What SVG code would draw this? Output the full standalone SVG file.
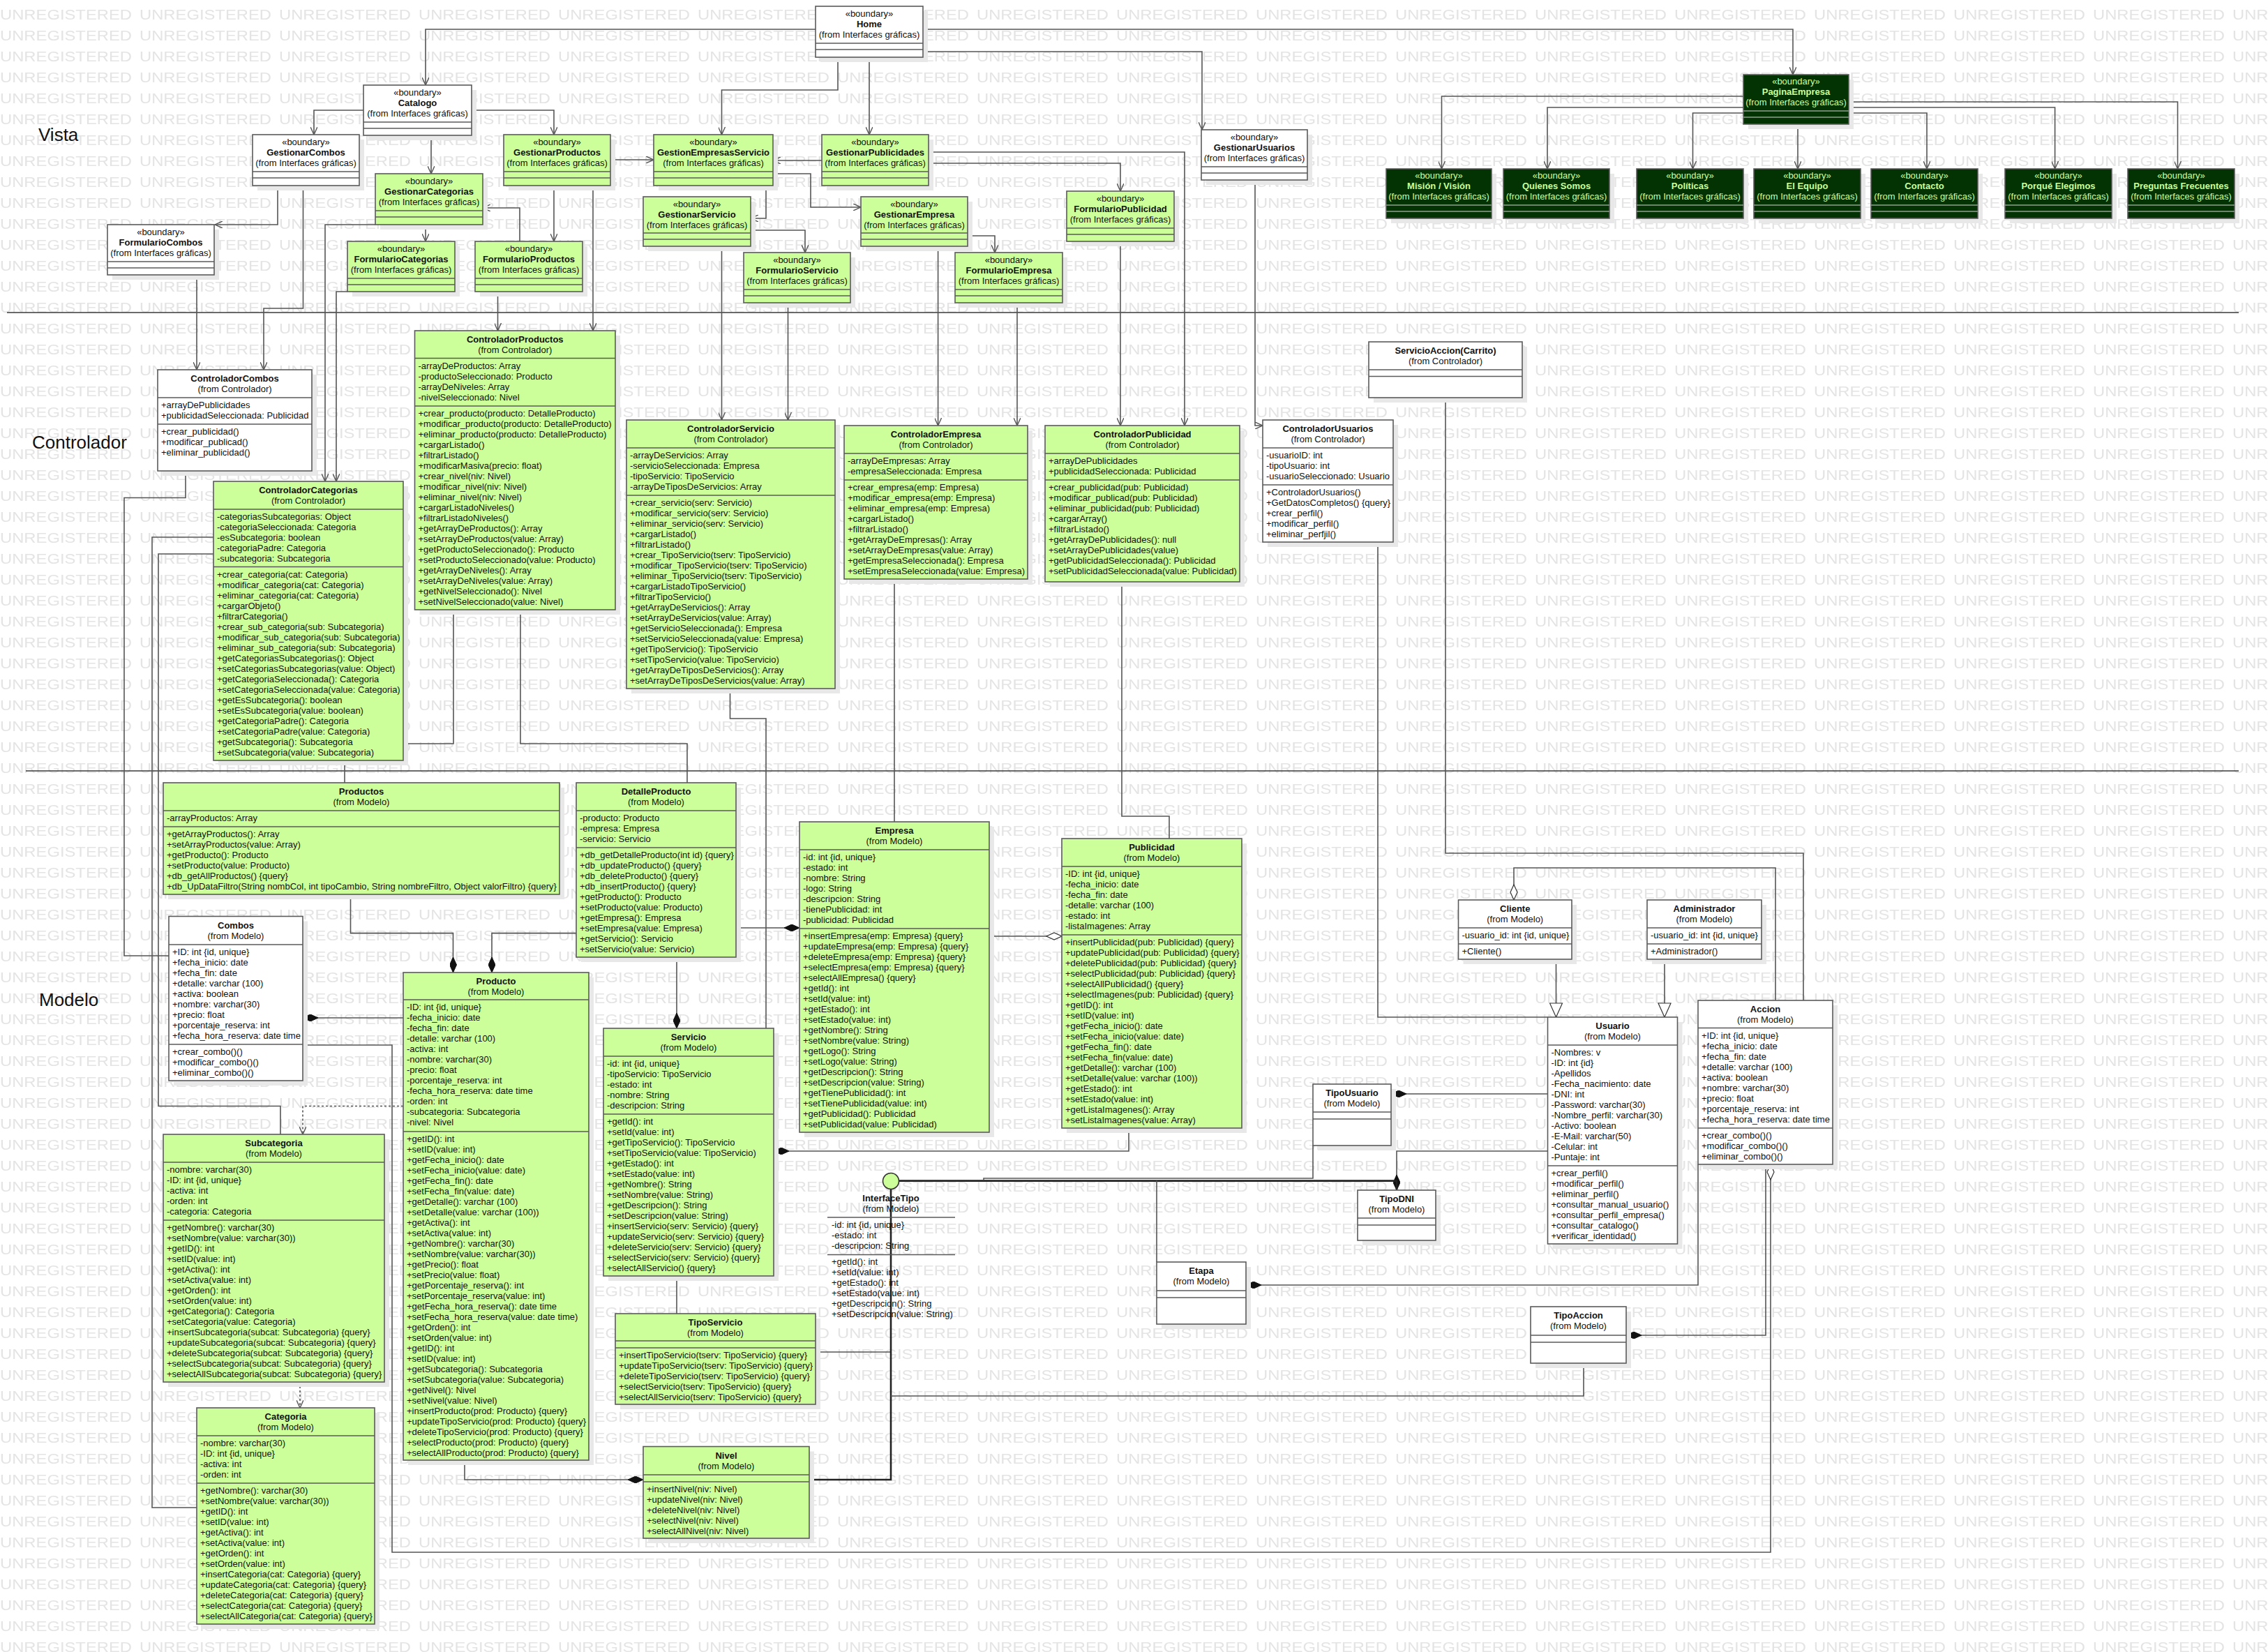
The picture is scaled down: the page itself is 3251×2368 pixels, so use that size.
<svg xmlns="http://www.w3.org/2000/svg" width="3251" height="2368" viewBox="0 0 3251 2368">
<defs>
<style>
.sh{fill:#e8e8e8}
.g{fill:#ccff99;stroke:#5a5a5a;stroke-width:1.6}
.w{fill:#ffffff;stroke:#5a5a5a;stroke-width:1.6}
.d{fill:#033303;stroke:#5a5a5a;stroke-width:1.6}
.ln{stroke:#5a5a5a;stroke-width:1.6}
.dln{stroke:#8fa08f;stroke-width:1.6}
text{font-family:"Liberation Sans",Arial,sans-serif;font-size:13px;fill:#111}
.t{font-weight:bold;text-anchor:middle}
.f{text-anchor:middle}
.dt{fill:#ccff99}
.lbl{font-size:26px}
.c{fill:none;stroke:#555;stroke-width:1.6}
.ck{fill:none;stroke:#222;stroke-width:2.6}
.dash{stroke-dasharray:3 3}
.sep{stroke:#3a3a3a;stroke-width:1.6}
</style>
<pattern id="wm" width="200" height="30" patternUnits="userSpaceOnUse">
<text x="0" y="28" style="font-size:21px;fill:#e4e4e4" textLength="189" lengthAdjust="spacingAndGlyphs">UNREGISTERED</text>
</pattern>
<marker id="arr" viewBox="0 0 12 10" refX="11" refY="5" markerWidth="12" markerHeight="10" markerUnits="userSpaceOnUse" orient="auto"><path d="M0,0 L11,5 L0,10" fill="none" stroke="#555" stroke-width="1.4"/></marker>
<marker id="dia" viewBox="0 0 22 10" refX="22" refY="5" markerWidth="22" markerHeight="10" markerUnits="userSpaceOnUse" orient="auto"><path d="M0,5 L11,0 L22,5 L11,10 Z" fill="#111" stroke="#111" stroke-width="1"/></marker>
<marker id="hdia" viewBox="0 0 24 12" refX="23" refY="6" markerWidth="24" markerHeight="12" markerUnits="userSpaceOnUse" orient="auto"><path d="M1,6 L12,1 L23,6 L12,11 Z" fill="#fff" stroke="#333" stroke-width="1.2"/></marker>
<marker id="tri" viewBox="0 0 22 20" refX="21" refY="10" markerWidth="22" markerHeight="20" markerUnits="userSpaceOnUse" orient="auto"><path d="M1,1 L21,10 L1,19 Z" fill="#fff" stroke="#333" stroke-width="1.2"/></marker>
</defs>

<!-- background -->
<rect width="3251" height="2368" fill="#ffffff"/>
<rect width="3251" height="2368" fill="url(#wm)"/>

<!-- layer separators and labels -->
<g id="layers">
<line class="sep" x1="10" y1="448" x2="3209" y2="448"/>
<line class="sep" x1="37" y1="1105" x2="3209" y2="1105"/>
<text class="lbl" x="55" y="202">Vista</text>
<text class="lbl" x="46" y="643">Controlador</text>
<text class="lbl" x="56" y="1442">Modelo</text>
</g>

<!-- connectors -->
<g id="connectors">
<!-- Vista navigation -->
<path class="c" marker-end="url(#arr)" d="M1169,42 H610 V122"/>
<path class="c" marker-end="url(#arr)" d="M1323,42 H2570 V107"/>
<path class="c" marker-end="url(#arr)" d="M1201,82 V129 H1034.5 V193"/>
<path class="c" marker-end="url(#arr)" d="M1246,82 V193"/>
<path class="c" marker-end="url(#arr)" d="M1323,74 H1723 V186"/>
<path class="c" marker-end="url(#arr)" d="M521,158 H450 V193"/>
<path class="c" marker-end="url(#arr)" d="M676,158 H794 V193"/>
<path class="c" marker-end="url(#arr)" d="M618,194 V249"/>
<path class="c" marker-end="url(#arr)" d="M398,266 V322 H308"/>
<path class="c" marker-end="url(#arr)" d="M434.5,266 V442 H378 V530"/>
<path class="c" marker-end="url(#arr)" d="M282,394 V530"/>
<path class="c" marker-end="url(#arr)" d="M610,322 V346"/>
<path class="c" marker-end="url(#arr)" d="M538,322 H466 V690"/>
<path class="c" marker-end="url(#arr)" d="M498,418 H482 V690"/>
<path class="c" marker-end="url(#arr)" d="M794,266 V346"/>
<path class="c" marker-end="url(#arr)" d="M850,266 V474"/>
<path class="c" marker-end="url(#arr)" d="M745,346 V298 H692"/>
<path class="c" marker-end="url(#arr)" d="M713.5,418 V474"/>
<path class="c" marker-end="url(#arr)" d="M875,229 H937"/>
<path class="c" marker-end="url(#arr)" d="M1178,230 H1108"/>
<path class="c" marker-end="url(#arr)" d="M1331,218 H1698 V610"/>
<path class="c" marker-end="url(#arr)" d="M1331,234 H1606 V274"/>
<path class="c" marker-end="url(#arr)" d="M1606,346 V610"/>
<path class="c" marker-end="url(#arr)" d="M1108,249 H1162 V297 H1234"/>
<path class="c" marker-end="url(#arr)" d="M1098,266 V313 H1076"/>
<path class="c" marker-end="url(#arr)" d="M1076,330 H1154 V362"/>
<path class="c" marker-end="url(#arr)" d="M1034.5,353 V602"/>
<path class="c" marker-end="url(#arr)" d="M1129.5,434 V602"/>
<path class="c" marker-end="url(#arr)" d="M1387,338 H1426 V362"/>
<path class="c" marker-end="url(#arr)" d="M1344.6,353 V610"/>
<path class="c" marker-end="url(#arr)" d="M1458,434 V610"/>
<path class="c" marker-end="url(#arr)" d="M1799,258 V610 H1810"/>
<path class="c" marker-end="url(#arr)" d="M2499,138 H2066.5 V242"/>
<path class="c" marker-end="url(#arr)" d="M2499,154 H2218 V242"/>
<path class="c" marker-end="url(#arr)" d="M2499,162 H2426.5 V242"/>
<path class="c" marker-end="url(#arr)" d="M2577,178 V242"/>
<path class="c" marker-end="url(#arr)" d="M2650,162 H2762 V242"/>
<path class="c" marker-end="url(#arr)" d="M2650,154 H2945.6 V242"/>
<path class="c" marker-end="url(#arr)" d="M2650,146 H3121.5 V242"/>
<!-- Controlador to Modelo -->
<path class="c" d="M266,675 V713.5 H178 V1370 H242"/>
<path class="c" d="M306,770 H218 V2161 H282"/>
<path class="c" d="M306,794 H227 V1585.5 H402 V1626"/>
<path class="c" d="M494,1090 V1122"/>
<path class="c" d="M577.5,1066 H650 V874"/>
<path class="c" d="M746,874 V1066 H985 V1122"/>
<path class="c" d="M1046.5,987 V1030 H1098 V1474"/>
<path class="c" d="M1282,830 V1178"/>
<path class="c" d="M1608,834 V1170 H1676 V1202"/>
<path class="c" d="M1975,777 V1458 H2218.5"/>
<path class="c" d="M2072,570 V1223 H2585 V1434"/>
<!-- Modelo relations -->
<path class="c" marker-end="url(#dia)" d="M502.5,1281.5 V1337.6 H649.5 V1394"/>
<path class="c" marker-end="url(#dia)" d="M826,1337.6 H705 V1394"/>
<path class="c" marker-end="url(#dia)" d="M1055,1330 H1146"/>
<path class="c" marker-end="url(#dia)" d="M970,1371 V1474"/>
<path class="c" marker-end="url(#dia)" d="M578,1459 H434"/>
<path class="c dash" marker-end="url(#arr)" d="M578,1585.5 H434 V1626"/>
<path class="c dash" marker-end="url(#arr)" d="M430,1981 V2018"/>
<path class="c" marker-end="url(#dia)" d="M666,2093 V2121 H922"/>
<path class="c" marker-end="url(#hdia)" d="M434,1498 H562 V2225 H2538 V1669"/>
<path class="c" d="M970,1829 V1883"/>
<path class="c" marker-end="url(#dia)" d="M1618,1617 V1650 H1109"/>
<path class="c" marker-end="url(#hdia)" d="M1418,1342 H1522"/>
<path class="c" marker-end="url(#tri)" d="M2230.5,1375 V1458"/>
<path class="c" marker-end="url(#tri)" d="M2386,1375 V1458"/>
<path class="c" marker-end="url(#hdia)" d="M2545,1434 V1244 H2170 V1290"/>
<path class="c" marker-end="url(#dia)" d="M2218.5,1568 H1994"/>
<path class="c" marker-end="url(#dia)" d="M2218.5,1650 H2002 V1706"/>
<path class="c" marker-end="url(#dia)" d="M2434,1669 V1842 H1786"/>
<path class="c" marker-end="url(#dia)" d="M2531,1669 V1914 H2331"/>
<!-- InterfaceTipo realizations -->
<path class="ck" d="M2002,1706 V1692.6 H1288.5"/>
<path class="c" d="M1882,1642 V1689 H1410 V1692"/>
<path class="c" d="M1658,1809 V1692.6"/>
<path class="c" d="M1169,1938 H1277"/>
<path class="ck" d="M1160,2121 H1277 V1704.5"/>
<path class="c" d="M2270,1954 V2001 H1277"/>
</g>

<!-- ===== Vista ===== -->
<g id="Home"><rect class="sh" x="1176" y="16" width="154" height="73"/><rect class="w" x="1169" y="9" width="154" height="73"/><line class="ln" x1="1169" y1="62" x2="1323" y2="62"/><line class="ln" x1="1169" y1="71" x2="1323" y2="71"/><text class="f" x="1246" y="24">«boundary»</text><text class="t" x="1246" y="39">Home</text><text class="f" x="1246" y="54">(from Interfaces gráficas)</text></g>
<g id="Catalogo"><rect class="sh" x="528" y="129" width="155" height="72"/><rect class="w" x="521" y="122" width="155" height="72"/><line class="ln" x1="521" y1="175" x2="676" y2="175"/><line class="ln" x1="521" y1="184" x2="676" y2="184"/><text class="f" x="598.5" y="137">«boundary»</text><text class="t" x="598.5" y="152">Catalogo</text><text class="f" x="598.5" y="167">(from Interfaces gráficas)</text></g>
<g id="GestionarCombos"><rect class="sh" x="369" y="200" width="153" height="73"/><rect class="w" x="362" y="193" width="153" height="73"/><line class="ln" x1="362" y1="246" x2="515" y2="246"/><line class="ln" x1="362" y1="255" x2="515" y2="255"/><text class="f" x="438.5" y="208">«boundary»</text><text class="t" x="438.5" y="223">GestionarCombos</text><text class="f" x="438.5" y="238">(from Interfaces gráficas)</text></g>
<g id="GestionarCategorias"><rect class="sh" x="545" y="256" width="154" height="73"/><rect class="g" x="538" y="249" width="154" height="73"/><line class="ln" x1="538" y1="302" x2="692" y2="302"/><line class="ln" x1="538" y1="311" x2="692" y2="311"/><text class="f" x="615" y="264">«boundary»</text><text class="t" x="615" y="279">GestionarCategorias</text><text class="f" x="615" y="294">(from Interfaces gráficas)</text></g>
<g id="GestionarProductos"><rect class="sh" x="729" y="200" width="153" height="73"/><rect class="g" x="722" y="193" width="153" height="73"/><line class="ln" x1="722" y1="246" x2="875" y2="246"/><line class="ln" x1="722" y1="255" x2="875" y2="255"/><text class="f" x="798.5" y="208">«boundary»</text><text class="t" x="798.5" y="223">GestionarProductos</text><text class="f" x="798.5" y="238">(from Interfaces gráficas)</text></g>
<g id="FormularioCombos"><rect class="sh" x="161" y="329" width="153" height="72"/><rect class="w" x="154" y="322" width="153" height="72"/><line class="ln" x1="154" y1="375" x2="307" y2="375"/><line class="ln" x1="154" y1="384" x2="307" y2="384"/><text class="f" x="230.5" y="337">«boundary»</text><text class="t" x="230.5" y="352">FormularioCombos</text><text class="f" x="230.5" y="367">(from Interfaces gráficas)</text></g>
<g id="FormularioCategorias"><rect class="sh" x="505" y="353" width="154" height="72"/><rect class="g" x="498" y="346" width="154" height="72"/><line class="ln" x1="498" y1="399" x2="652" y2="399"/><line class="ln" x1="498" y1="408" x2="652" y2="408"/><text class="f" x="575" y="361">«boundary»</text><text class="t" x="575" y="376">FormularioCategorias</text><text class="f" x="575" y="391">(from Interfaces gráficas)</text></g>
<g id="FormularioProductos"><rect class="sh" x="688" y="353" width="154" height="72"/><rect class="g" x="681" y="346" width="154" height="72"/><line class="ln" x1="681" y1="399" x2="835" y2="399"/><line class="ln" x1="681" y1="408" x2="835" y2="408"/><text class="f" x="758" y="361">«boundary»</text><text class="t" x="758" y="376">FormularioProductos</text><text class="f" x="758" y="391">(from Interfaces gráficas)</text></g>
<g id="GestionEmpresasServicio"><rect class="sh" x="944" y="200" width="171" height="73"/><rect class="g" x="937" y="193" width="171" height="73"/><line class="ln" x1="937" y1="246" x2="1108" y2="246"/><line class="ln" x1="937" y1="255" x2="1108" y2="255"/><text class="f" x="1022.5" y="208">«boundary»</text><text class="t" x="1022.5" y="223">GestionEmpresasServicio</text><text class="f" x="1022.5" y="238">(from Interfaces gráficas)</text></g>
<g id="GestionarPublicidades"><rect class="sh" x="1185" y="200" width="153" height="73"/><rect class="g" x="1178" y="193" width="153" height="73"/><line class="ln" x1="1178" y1="246" x2="1331" y2="246"/><line class="ln" x1="1178" y1="255" x2="1331" y2="255"/><text class="f" x="1254.5" y="208">«boundary»</text><text class="t" x="1254.5" y="223">GestionarPublicidades</text><text class="f" x="1254.5" y="238">(from Interfaces gráficas)</text></g>
<g id="GestionarUsuarios"><rect class="sh" x="1729" y="193" width="152" height="72"/><rect class="w" x="1722" y="186" width="152" height="72"/><line class="ln" x1="1722" y1="239" x2="1874" y2="239"/><line class="ln" x1="1722" y1="248" x2="1874" y2="248"/><text class="f" x="1798" y="201">«boundary»</text><text class="t" x="1798" y="216">GestionarUsuarios</text><text class="f" x="1798" y="231">(from Interfaces gráficas)</text></g>
<g id="GestionarServicio"><rect class="sh" x="929" y="289" width="154" height="71"/><rect class="g" x="922" y="282" width="154" height="71"/><line class="ln" x1="922" y1="334" x2="1076" y2="334"/><line class="ln" x1="922" y1="343" x2="1076" y2="343"/><text class="f" x="999" y="297">«boundary»</text><text class="t" x="999" y="312">GestionarServicio</text><text class="f" x="999" y="327">(from Interfaces gráficas)</text></g>
<g id="GestionarEmpresa"><rect class="sh" x="1241" y="289" width="153" height="71"/><rect class="g" x="1234" y="282" width="153" height="71"/><line class="ln" x1="1234" y1="334" x2="1387" y2="334"/><line class="ln" x1="1234" y1="343" x2="1387" y2="343"/><text class="f" x="1310.5" y="297">«boundary»</text><text class="t" x="1310.5" y="312">GestionarEmpresa</text><text class="f" x="1310.5" y="327">(from Interfaces gráficas)</text></g>
<g id="FormularioPublicidad"><rect class="sh" x="1536" y="281" width="154" height="72"/><rect class="g" x="1529" y="274" width="154" height="72"/><line class="ln" x1="1529" y1="327" x2="1683" y2="327"/><line class="ln" x1="1529" y1="336" x2="1683" y2="336"/><text class="f" x="1606" y="289">«boundary»</text><text class="t" x="1606" y="304">FormularioPublicidad</text><text class="f" x="1606" y="319">(from Interfaces gráficas)</text></g>
<g id="FormularioServicio"><rect class="sh" x="1073" y="369" width="153" height="72"/><rect class="g" x="1066" y="362" width="153" height="72"/><line class="ln" x1="1066" y1="415" x2="1219" y2="415"/><line class="ln" x1="1066" y1="424" x2="1219" y2="424"/><text class="f" x="1142.5" y="377">«boundary»</text><text class="t" x="1142.5" y="392">FormularioServicio</text><text class="f" x="1142.5" y="407">(from Interfaces gráficas)</text></g>
<g id="FormularioEmpresa"><rect class="sh" x="1376" y="369" width="154" height="72"/><rect class="g" x="1369" y="362" width="154" height="72"/><line class="ln" x1="1369" y1="415" x2="1523" y2="415"/><line class="ln" x1="1369" y1="424" x2="1523" y2="424"/><text class="f" x="1446" y="377">«boundary»</text><text class="t" x="1446" y="392">FormularioEmpresa</text><text class="f" x="1446" y="407">(from Interfaces gráficas)</text></g>

<!-- company pages -->
<g id="PaginaEmpresa"><rect class="sh" x="2506" y="114" width="151" height="71"/><rect class="d" x="2499" y="107" width="151" height="71"/><line class="dln" x1="2499" y1="159" x2="2650" y2="159"/><line class="dln" x1="2499" y1="168" x2="2650" y2="168"/><text class="f dt" x="2574.5" y="121">«boundary»</text><text class="t dt" x="2574.5" y="136">PaginaEmpresa</text><text class="f dt" x="2574.5" y="151">(from Interfaces gráficas)</text></g>
<g id="MisionVision"><rect class="sh" x="1994" y="249" width="151" height="71"/><rect class="d" x="1987" y="242" width="151" height="71"/><line class="dln" x1="1987" y1="294" x2="2138" y2="294"/><line class="dln" x1="1987" y1="303" x2="2138" y2="303"/><text class="f dt" x="2062.5" y="256">«boundary»</text><text class="t dt" x="2062.5" y="271">Misión / Visión</text><text class="f dt" x="2062.5" y="286">(from Interfaces gráficas)</text></g>
<g id="QuienesSomos"><rect class="sh" x="2162" y="249" width="152" height="71"/><rect class="d" x="2155" y="242" width="152" height="71"/><line class="dln" x1="2155" y1="294" x2="2307" y2="294"/><line class="dln" x1="2155" y1="303" x2="2307" y2="303"/><text class="f dt" x="2231" y="256">«boundary»</text><text class="t dt" x="2231" y="271">Quienes Somos</text><text class="f dt" x="2231" y="286">(from Interfaces gráficas)</text></g>
<g id="Politicas"><rect class="sh" x="2353" y="249" width="153" height="71"/><rect class="d" x="2346" y="242" width="153" height="71"/><line class="dln" x1="2346" y1="294" x2="2499" y2="294"/><line class="dln" x1="2346" y1="303" x2="2499" y2="303"/><text class="f dt" x="2422.5" y="256">«boundary»</text><text class="t dt" x="2422.5" y="271">Políticas</text><text class="f dt" x="2422.5" y="286">(from Interfaces gráficas)</text></g>
<g id="ElEquipo"><rect class="sh" x="2521" y="249" width="153" height="71"/><rect class="d" x="2514" y="242" width="153" height="71"/><line class="dln" x1="2514" y1="294" x2="2667" y2="294"/><line class="dln" x1="2514" y1="303" x2="2667" y2="303"/><text class="f dt" x="2590.5" y="256">«boundary»</text><text class="t dt" x="2590.5" y="271">El Equipo</text><text class="f dt" x="2590.5" y="286">(from Interfaces gráficas)</text></g>
<g id="Contacto"><rect class="sh" x="2689" y="249" width="153" height="71"/><rect class="d" x="2682" y="242" width="153" height="71"/><line class="dln" x1="2682" y1="294" x2="2835" y2="294"/><line class="dln" x1="2682" y1="303" x2="2835" y2="303"/><text class="f dt" x="2758.5" y="256">«boundary»</text><text class="t dt" x="2758.5" y="271">Contacto</text><text class="f dt" x="2758.5" y="286">(from Interfaces gráficas)</text></g>
<g id="PorqueElegimos"><rect class="sh" x="2881" y="249" width="153" height="71"/><rect class="d" x="2874" y="242" width="153" height="71"/><line class="dln" x1="2874" y1="294" x2="3027" y2="294"/><line class="dln" x1="2874" y1="303" x2="3027" y2="303"/><text class="f dt" x="2950.5" y="256">«boundary»</text><text class="t dt" x="2950.5" y="271">Porqué Elegimos</text><text class="f dt" x="2950.5" y="286">(from Interfaces gráficas)</text></g>
<g id="PreguntasFrecuentes"><rect class="sh" x="3057" y="249" width="153" height="71"/><rect class="d" x="3050" y="242" width="153" height="71"/><line class="dln" x1="3050" y1="294" x2="3203" y2="294"/><line class="dln" x1="3050" y1="303" x2="3203" y2="303"/><text class="f dt" x="3126.5" y="256">«boundary»</text><text class="t dt" x="3126.5" y="271">Preguntas Frecuentes</text><text class="f dt" x="3126.5" y="286">(from Interfaces gráficas)</text></g>

<!-- ===== Controlador ===== -->
<g id="ControladorCombos"><rect class="sh" x="233" y="537" width="221" height="145"/><rect class="w" x="226" y="530" width="221" height="145"/><line class="ln" x1="226" y1="570" x2="447" y2="570"/><line class="ln" x1="226" y1="608" x2="447" y2="608"/>
<text class="t" x="336.5" y="547">ControladorCombos</text><text class="f" x="336.5" y="562">(from Controlador)</text>
<text x="231" y="585"><tspan x="231">+arrayDePublicidades</tspan><tspan x="231" dy="15">+publicidadSeleccionada: Publicidad</tspan></text>
<text x="231" y="623"><tspan x="231">+crear_publicidad()</tspan><tspan x="231" dy="15">+modificar_publicad()</tspan><tspan x="231" dy="15">+eliminar_publicidad()</tspan></text></g>

<g id="ControladorCategorias"><rect class="sh" x="313" y="697" width="272" height="400"/><rect class="g" x="306" y="690" width="272" height="400"/><line class="ln" x1="306" y1="730" x2="578" y2="730"/><line class="ln" x1="306" y1="812.5" x2="578" y2="812.5"/>
<text class="t" x="442" y="707">ControladorCategorias</text><text class="f" x="442" y="722">(from Controlador)</text>
<text x="311" y="745"><tspan x="311">-categoriasSubcategorias: Object</tspan><tspan x="311" dy="15">-categoriaSeleccionada: Categoria</tspan><tspan x="311" dy="15">-esSubcategoria: boolean</tspan><tspan x="311" dy="15">-categoriaPadre: Categoria</tspan><tspan x="311" dy="15">-subcategoria: Subcategoria</tspan></text>
<text x="311" y="827.5"><tspan x="311">+crear_categoria(cat: Categoria)</tspan><tspan x="311" dy="15">+modificar_categoria(cat: Categoria)</tspan><tspan x="311" dy="15">+eliminar_categoria(cat: Categoria)</tspan><tspan x="311" dy="15">+cargarObjeto()</tspan><tspan x="311" dy="15">+filtrarCategoria()</tspan><tspan x="311" dy="15">+crear_sub_categoria(sub: Subcategoria)</tspan><tspan x="311" dy="15">+modificar_sub_categoria(sub: Subcategoria)</tspan><tspan x="311" dy="15">+eliminar_sub_categoria(sub: Subcategoria)</tspan><tspan x="311" dy="15">+getCategoriasSubcategorias(): Object</tspan><tspan x="311" dy="15">+setCategoriasSubcategorias(value: Object)</tspan><tspan x="311" dy="15">+getCategoriaSeleccionada(): Categoria</tspan><tspan x="311" dy="15">+setCategoriaSeleccionada(value: Categoria)</tspan><tspan x="311" dy="15">+getEsSubcategoria(): boolean</tspan><tspan x="311" dy="15">+setEsSubcategoria(value: boolean)</tspan><tspan x="311" dy="15">+getCategoriaPadre(): Categoria</tspan><tspan x="311" dy="15">+setCategoriaPadre(value: Categoria)</tspan><tspan x="311" dy="15">+getSubcategoria(): Subcategoria</tspan><tspan x="311" dy="15">+setSubcategoria(value: Subcategoria)</tspan></text></g>

<g id="ControladorProductos"><rect class="sh" x="601.5" y="481" width="287.5" height="400"/><rect class="g" x="594.5" y="474" width="287.5" height="400"/><line class="ln" x1="594.5" y1="513.5" x2="882" y2="513.5"/><line class="ln" x1="594.5" y1="582" x2="882" y2="582"/>
<text class="t" x="738.25" y="491">ControladorProductos</text><text class="f" x="738.25" y="506">(from Controlador)</text>
<text x="599.5" y="528.5"><tspan x="599.5">-arrayDeProductos: Array</tspan><tspan x="599.5" dy="15">-productoSeleccionado: Producto</tspan><tspan x="599.5" dy="15">-arrayDeNiveles: Array</tspan><tspan x="599.5" dy="15">-nivelSeleccionado: Nivel</tspan></text>
<text x="599.5" y="597"><tspan x="599.5">+crear_producto(producto: DetalleProducto)</tspan><tspan x="599.5" dy="15">+modificar_producto(producto: DetalleProducto)</tspan><tspan x="599.5" dy="15">+eliminar_producto(producto: DetalleProducto)</tspan><tspan x="599.5" dy="15">+cargarListado()</tspan><tspan x="599.5" dy="15">+filtrarListado()</tspan><tspan x="599.5" dy="15">+modificarMasiva(precio: float)</tspan><tspan x="599.5" dy="15">+crear_nivel(niv: Nivel)</tspan><tspan x="599.5" dy="15">+modificar_nivel(niv: Nivel)</tspan><tspan x="599.5" dy="15">+eliminar_nivel(niv: Nivel)</tspan><tspan x="599.5" dy="15">+cargarListadoNiveles()</tspan><tspan x="599.5" dy="15">+filtrarListadoNiveles()</tspan><tspan x="599.5" dy="15">+getArrayDeProductos(): Array</tspan><tspan x="599.5" dy="15">+setArrayDeProductos(value: Array)</tspan><tspan x="599.5" dy="15">+getProductoSeleccionado(): Producto</tspan><tspan x="599.5" dy="15">+setProductoSeleccionado(value: Producto)</tspan><tspan x="599.5" dy="15">+getArrayDeNiveles(): Array</tspan><tspan x="599.5" dy="15">+setArrayDeNiveles(value: Array)</tspan><tspan x="599.5" dy="15">+getNivelSeleccionado(): Nivel</tspan><tspan x="599.5" dy="15">+setNivelSeleccionado(value: Nivel)</tspan></text></g>

<g id="ControladorServicio"><rect class="sh" x="905" y="609" width="299" height="385"/><rect class="g" x="898" y="602" width="299" height="385"/><line class="ln" x1="898" y1="642" x2="1197" y2="642"/><line class="ln" x1="898" y1="710" x2="1197" y2="710"/>
<text class="t" x="1047.5" y="619">ControladorServicio</text><text class="f" x="1047.5" y="634">(from Controlador)</text>
<text x="903" y="657"><tspan x="903">-arrayDeServicios: Array</tspan><tspan x="903" dy="15">-servicioSeleccionada: Empresa</tspan><tspan x="903" dy="15">-tipoServicio: TipoServicio</tspan><tspan x="903" dy="15">-arrayDeTiposDeServicios: Array</tspan></text>
<text x="903" y="725"><tspan x="903">+crear_servicio(serv: Servicio)</tspan><tspan x="903" dy="15">+modificar_servicio(serv: Servicio)</tspan><tspan x="903" dy="15">+eliminar_servicio(serv: Servicio)</tspan><tspan x="903" dy="15">+cargarListado()</tspan><tspan x="903" dy="15">+filtrarListado()</tspan><tspan x="903" dy="15">+crear_TipoServicio(tserv: TipoServicio)</tspan><tspan x="903" dy="15">+modificar_TipoServicio(tserv: TipoServicio)</tspan><tspan x="903" dy="15">+eliminar_TipoServicio(tserv: TipoServicio)</tspan><tspan x="903" dy="15">+cargarListadoTipoServicio()</tspan><tspan x="903" dy="15">+filtrarTipoServicio()</tspan><tspan x="903" dy="15">+getArrayDeServicios(): Array</tspan><tspan x="903" dy="15">+setArrayDeServicios(value: Array)</tspan><tspan x="903" dy="15">+getServicioSeleccionada(): Empresa</tspan><tspan x="903" dy="15">+setServicioSeleccionada(value: Empresa)</tspan><tspan x="903" dy="15">+getTipoServicio(): TipoServicio</tspan><tspan x="903" dy="15">+setTipoServicio(value: TipoServicio)</tspan><tspan x="903" dy="15">+getArrayDeTiposDeServicios(): Array</tspan><tspan x="903" dy="15">+setArrayDeTiposDeServicios(value: Array)</tspan></text></g>

<g id="ControladorEmpresa"><rect class="sh" x="1217" y="617" width="263" height="220"/><rect class="g" x="1210" y="610" width="263" height="220"/><line class="ln" x1="1210" y1="650" x2="1473" y2="650"/><line class="ln" x1="1210" y1="688" x2="1473" y2="688"/>
<text class="t" x="1341.5" y="627">ControladorEmpresa</text><text class="f" x="1341.5" y="642">(from Controlador)</text>
<text x="1215" y="665"><tspan x="1215">-arrayDeEmpresas: Array</tspan><tspan x="1215" dy="15">-empresaSeleccionada: Empresa</tspan></text>
<text x="1215" y="703"><tspan x="1215">+crear_empresa(emp: Empresa)</tspan><tspan x="1215" dy="15">+modificar_empresa(emp: Empresa)</tspan><tspan x="1215" dy="15">+eliminar_empresa(emp: Empresa)</tspan><tspan x="1215" dy="15">+cargarListado()</tspan><tspan x="1215" dy="15">+filtrarListado()</tspan><tspan x="1215" dy="15">+getArrayDeEmpresas(): Array</tspan><tspan x="1215" dy="15">+setArrayDeEmpresas(value: Array)</tspan><tspan x="1215" dy="15">+getEmpresaSeleccionada(): Empresa</tspan><tspan x="1215" dy="15">+setEmpresaSeleccionada(value: Empresa)</tspan></text></g>

<g id="ControladorPublicidad"><rect class="sh" x="1505" y="617" width="279" height="224"/><rect class="g" x="1498" y="610" width="279" height="224"/><line class="ln" x1="1498" y1="650" x2="1777" y2="650"/><line class="ln" x1="1498" y1="688" x2="1777" y2="688"/>
<text class="t" x="1637.5" y="627">ControladorPublicidad</text><text class="f" x="1637.5" y="642">(from Controlador)</text>
<text x="1503" y="665"><tspan x="1503">+arrayDePublicidades</tspan><tspan x="1503" dy="15">+publicidadSeleccionada: Publicidad</tspan></text>
<text x="1503" y="703"><tspan x="1503">+crear_publicidad(pub: Publicidad)</tspan><tspan x="1503" dy="15">+modificar_publicad(pub: Publicidad)</tspan><tspan x="1503" dy="15">+eliminar_publicidad(pub: Publicidad)</tspan><tspan x="1503" dy="15">+cargarArray()</tspan><tspan x="1503" dy="15">+filtrarListado()</tspan><tspan x="1503" dy="15">+getArrayDePublicidades(): null</tspan><tspan x="1503" dy="15">+setArrayDePublicidades(value)</tspan><tspan x="1503" dy="15">+getPublicidadSeleccionada(): Publicidad</tspan><tspan x="1503" dy="15">+setPublicidadSeleccionada(value: Publicidad)</tspan></text></g>

<g id="ServicioAccionCarrito"><rect class="sh" x="1969" y="497" width="220" height="80"/><rect class="w" x="1962" y="490" width="220" height="80"/><line class="ln" x1="1962" y1="530" x2="2182" y2="530"/><line class="ln" x1="1962" y1="539.5" x2="2182" y2="539.5"/>
<text class="t" x="2072" y="507">ServicioAccion(Carrito)</text><text class="f" x="2072" y="522">(from Controlador)</text></g>

<g id="ControladorUsuarios"><rect class="sh" x="1817" y="609" width="187" height="175"/><rect class="w" x="1810" y="602" width="187" height="175"/><line class="ln" x1="1810" y1="642" x2="1997" y2="642"/><line class="ln" x1="1810" y1="695" x2="1997" y2="695"/>
<text class="t" x="1903.5" y="619">ControladorUsuarios</text><text class="f" x="1903.5" y="634">(from Controlador)</text>
<text x="1815" y="657"><tspan x="1815">-usuarioID: int</tspan><tspan x="1815" dy="15">-tipoUsuario: int</tspan><tspan x="1815" dy="15">-usuarioSeleccionado: Usuario</tspan></text>
<text x="1815" y="710"><tspan x="1815">+ControladorUsuarios()</tspan><tspan x="1815" dy="15">+GetDatosCompletos() {query}</tspan><tspan x="1815" dy="15">+crear_perfil()</tspan><tspan x="1815" dy="15">+modificar_perfil()</tspan><tspan x="1815" dy="15">+eliminar_perfjil()</tspan></text></g>

<!-- ===== Modelo ===== -->
<g id="Productos"><rect class="sh" x="241" y="1129" width="568" height="160"/><rect class="g" x="234" y="1122" width="568" height="160"/><line class="ln" x1="234" y1="1162" x2="802" y2="1162"/><line class="ln" x1="234" y1="1185" x2="802" y2="1185"/>
<text class="t" x="518" y="1139">Productos</text><text class="f" x="518" y="1154">(from Modelo)</text>
<text x="239" y="1177">-arrayProductos: Array</text>
<text x="239" y="1200"><tspan x="239">+getArrayProductos(): Array</tspan><tspan x="239" dy="15">+setArrayProductos(value: Array)</tspan><tspan x="239" dy="15">+getProducto(): Producto</tspan><tspan x="239" dy="15">+setProducto(value: Producto)</tspan><tspan x="239" dy="15">+db_getAllProductos() {query}</tspan><tspan x="239" dy="15">+db_UpDataFiltro(String nombCol, int tipoCambio, String nombreFiltro, Object valorFiltro) {query}</tspan></text></g>

<g id="DetalleProducto"><rect class="sh" x="833" y="1129" width="229" height="250"/><rect class="g" x="826" y="1122" width="229" height="250"/><line class="ln" x1="826" y1="1162" x2="1055" y2="1162"/><line class="ln" x1="826" y1="1215" x2="1055" y2="1215"/>
<text class="t" x="940.5" y="1139">DetalleProducto</text><text class="f" x="940.5" y="1154">(from Modelo)</text>
<text x="831" y="1177"><tspan x="831">-producto: Producto</tspan><tspan x="831" dy="15">-empresa: Empresa</tspan><tspan x="831" dy="15">-servicio: Servicio</tspan></text>
<text x="831" y="1230"><tspan x="831">+db_getDetalleProducto(int id) {query}</tspan><tspan x="831" dy="15">+db_updateProducto() {query}</tspan><tspan x="831" dy="15">+db_deleteProducto() {query}</tspan><tspan x="831" dy="15">+db_insertProducto() {query}</tspan><tspan x="831" dy="15">+getProducto(): Producto</tspan><tspan x="831" dy="15">+setProducto(value: Producto)</tspan><tspan x="831" dy="15">+getEmpresa(): Empresa</tspan><tspan x="831" dy="15">+setEmpresa(value: Empresa)</tspan><tspan x="831" dy="15">+getServicio(): Servicio</tspan><tspan x="831" dy="15">+setServicio(value: Servicio)</tspan></text></g>

<g id="Combos"><rect class="sh" x="249" y="1320.5" width="192" height="235.5"/><rect class="w" x="242" y="1313.5" width="192" height="235.5"/><line class="ln" x1="242" y1="1354" x2="434" y2="1354"/><line class="ln" x1="242" y1="1497" x2="434" y2="1497"/>
<text class="t" x="338" y="1330.5">Combos</text><text class="f" x="338" y="1345.5">(from Modelo)</text>
<text x="247" y="1369"><tspan x="247">+ID: int {id, unique}</tspan><tspan x="247" dy="15">+fecha_inicio: date</tspan><tspan x="247" dy="15">+fecha_fin: date</tspan><tspan x="247" dy="15">+detalle: varchar (100)</tspan><tspan x="247" dy="15">+activa: boolean</tspan><tspan x="247" dy="15">+nombre: varchar(30)</tspan><tspan x="247" dy="15">+precio: float</tspan><tspan x="247" dy="15">+porcentaje_reserva: int</tspan><tspan x="247" dy="15">+fecha_hora_reserva: date time</tspan></text>
<text x="247" y="1512"><tspan x="247">+crear_combo()()</tspan><tspan x="247" dy="15">+modificar_combo()()</tspan><tspan x="247" dy="15">+eliminar_combo()()</tspan></text></g>

<g id="Producto"><rect class="sh" x="585" y="1401" width="266" height="699"/><rect class="g" x="578" y="1394" width="266" height="699"/><line class="ln" x1="578" y1="1433" x2="844" y2="1433"/><line class="ln" x1="578" y1="1622" x2="844" y2="1622"/>
<text class="t" x="711" y="1411">Producto</text><text class="f" x="711" y="1426">(from Modelo)</text>
<text x="583" y="1448"><tspan x="583">-ID: int {id, unique}</tspan><tspan x="583" dy="15">-fecha_inicio: date</tspan><tspan x="583" dy="15">-fecha_fin: date</tspan><tspan x="583" dy="15">-detalle: varchar (100)</tspan><tspan x="583" dy="15">-activa: int</tspan><tspan x="583" dy="15">-nombre: varchar(30)</tspan><tspan x="583" dy="15">-precio: float</tspan><tspan x="583" dy="15">-porcentaje_reserva: int</tspan><tspan x="583" dy="15">-fecha_hora_reserva: date time</tspan><tspan x="583" dy="15">-orden: int</tspan><tspan x="583" dy="15">-subcategoria: Subcategoria</tspan><tspan x="583" dy="15">-nivel: Nivel</tspan></text>
<text x="583" y="1637"><tspan x="583">+getID(): int</tspan><tspan x="583" dy="15">+setID(value: int)</tspan><tspan x="583" dy="15">+getFecha_inicio(): date</tspan><tspan x="583" dy="15">+setFecha_inicio(value: date)</tspan><tspan x="583" dy="15">+getFecha_fin(): date</tspan><tspan x="583" dy="15">+setFecha_fin(value: date)</tspan><tspan x="583" dy="15">+getDetalle(): varchar (100)</tspan><tspan x="583" dy="15">+setDetalle(value: varchar (100))</tspan><tspan x="583" dy="15">+getActiva(): int</tspan><tspan x="583" dy="15">+setActiva(value: int)</tspan><tspan x="583" dy="15">+getNombre(): varchar(30)</tspan><tspan x="583" dy="15">+setNombre(value: varchar(30))</tspan><tspan x="583" dy="15">+getPrecio(): float</tspan><tspan x="583" dy="15">+setPrecio(value: float)</tspan><tspan x="583" dy="15">+getPorcentaje_reserva(): int</tspan><tspan x="583" dy="15">+setPorcentaje_reserva(value: int)</tspan><tspan x="583" dy="15">+getFecha_hora_reserva(): date time</tspan><tspan x="583" dy="15">+setFecha_hora_reserva(value: date time)</tspan><tspan x="583" dy="15">+getOrden(): int</tspan><tspan x="583" dy="15">+setOrden(value: int)</tspan><tspan x="583" dy="15">+getID(): int</tspan><tspan x="583" dy="15">+setID(value: int)</tspan><tspan x="583" dy="15">+getSubcategoria(): Subcategoria</tspan><tspan x="583" dy="15">+setSubcategoria(value: Subcategoria)</tspan><tspan x="583" dy="15">+getNivel(): Nivel</tspan><tspan x="583" dy="15">+setNivel(value: Nivel)</tspan><tspan x="583" dy="15">+insertProducto(prod: Producto) {query}</tspan><tspan x="583" dy="15">+updateTipoServicio(prod: Producto) {query}</tspan><tspan x="583" dy="15">+deleteTipoServicio(prod: Producto) {query}</tspan><tspan x="583" dy="15">+selectProducto(prod: Producto) {query}</tspan><tspan x="583" dy="15">+selectAllProducto(prod: Producto) {query}</tspan></text></g>

<g id="Servicio"><rect class="sh" x="872" y="1481" width="244" height="355"/><rect class="g" x="865" y="1474" width="244" height="355"/><line class="ln" x1="865" y1="1514" x2="1109" y2="1514"/><line class="ln" x1="865" y1="1597" x2="1109" y2="1597"/>
<text class="t" x="987" y="1491">Servicio</text><text class="f" x="987" y="1506">(from Modelo)</text>
<text x="870" y="1529"><tspan x="870">-id: int {id, unique}</tspan><tspan x="870" dy="15">-tipoServicio: TipoServicio</tspan><tspan x="870" dy="15">-estado: int</tspan><tspan x="870" dy="15">-nombre: String</tspan><tspan x="870" dy="15">-descripcion: String</tspan></text>
<text x="870" y="1612"><tspan x="870">+getId(): int</tspan><tspan x="870" dy="15">+setId(value: int)</tspan><tspan x="870" dy="15">+getTipoServicio(): TipoServicio</tspan><tspan x="870" dy="15">+setTipoServicio(value: TipoServicio)</tspan><tspan x="870" dy="15">+getEstado(): int</tspan><tspan x="870" dy="15">+setEstado(value: int)</tspan><tspan x="870" dy="15">+getNombre(): String</tspan><tspan x="870" dy="15">+setNombre(value: String)</tspan><tspan x="870" dy="15">+getDescripcion(): String</tspan><tspan x="870" dy="15">+setDescripcion(value: String)</tspan><tspan x="870" dy="15">+insertServicio(serv: Servicio) {query}</tspan><tspan x="870" dy="15">+updateServicio(serv: Servicio) {query}</tspan><tspan x="870" dy="15">+deleteServicio(serv: Servicio) {query}</tspan><tspan x="870" dy="15">+selectServicio(serv: Servicio) {query}</tspan><tspan x="870" dy="15">+selectAllServicio() {query}</tspan></text></g>

<g id="TipoServicio"><rect class="sh" x="889" y="1890" width="287" height="130"/><rect class="g" x="882" y="1883" width="287" height="130"/><line class="ln" x1="882" y1="1922" x2="1169" y2="1922"/><line class="ln" x1="882" y1="1932" x2="1169" y2="1932"/>
<text class="t" x="1025.5" y="1900">TipoServicio</text><text class="f" x="1025.5" y="1915">(from Modelo)</text>
<text x="887" y="1947"><tspan x="887">+insertTipoServicio(tserv: TipoServicio) {query}</tspan><tspan x="887" dy="15">+updateTipoServicio(tserv: TipoServicio) {query}</tspan><tspan x="887" dy="15">+deleteTipoServicio(tserv: TipoServicio) {query}</tspan><tspan x="887" dy="15">+selectServicio(tserv: TipoServicio) {query}</tspan><tspan x="887" dy="15">+selectAllServicio(tserv: TipoServicio) {query}</tspan></text></g>

<g id="Nivel"><rect class="sh" x="929" y="2080.5" width="238" height="131.5"/><rect class="g" x="922" y="2073.5" width="238" height="131.5"/><line class="ln" x1="922" y1="2114" x2="1160" y2="2114"/><line class="ln" x1="922" y1="2124" x2="1160" y2="2124"/>
<text class="t" x="1041" y="2090.5">Nivel</text><text class="f" x="1041" y="2105.5">(from Modelo)</text>
<text x="927" y="2139"><tspan x="927">+insertNivel(niv: Nivel)</tspan><tspan x="927" dy="15">+updateNivel(niv: Nivel)</tspan><tspan x="927" dy="15">+deleteNivel(niv: Nivel)</tspan><tspan x="927" dy="15">+selectNivel(niv: Nivel)</tspan><tspan x="927" dy="15">+selectAllNivel(niv: Nivel)</tspan></text></g>

<g id="InterfaceTipo"><circle cx="1277" cy="1693" r="11.5" fill="#ccff99" stroke="#333" stroke-width="1.6"/>
<text class="t" x="1277" y="1721.5">InterfaceTipo</text><text class="f" x="1277" y="1736.5">(from Modelo)</text>
<line class="ln" x1="1186" y1="1745" x2="1369" y2="1745"/><line class="ln" x1="1186" y1="1798.5" x2="1369" y2="1798.5"/>
<text x="1192" y="1760"><tspan x="1192">-id: int {id, unique}</tspan><tspan x="1192" dy="15">-estado: int</tspan><tspan x="1192" dy="15">-descripcion: String</tspan></text>
<text x="1192" y="1813"><tspan x="1192">+getId(): int</tspan><tspan x="1192" dy="15">+setId(value: int)</tspan><tspan x="1192" dy="15">+getEstado(): int</tspan><tspan x="1192" dy="15">+setEstado(value: int)</tspan><tspan x="1192" dy="15">+getDescripcion(): String</tspan><tspan x="1192" dy="15">+setDescripcion(value: String)</tspan></text></g>

<g id="Empresa"><rect class="sh" x="1153" y="1185" width="272" height="445"/><rect class="g" x="1146" y="1178" width="272" height="445"/><line class="ln" x1="1146" y1="1218" x2="1418" y2="1218"/><line class="ln" x1="1146" y1="1331" x2="1418" y2="1331"/>
<text class="t" x="1282" y="1195">Empresa</text><text class="f" x="1282" y="1210">(from Modelo)</text>
<text x="1151" y="1233"><tspan x="1151">-id: int {id, unique}</tspan><tspan x="1151" dy="15">-estado: int</tspan><tspan x="1151" dy="15">-nombre: String</tspan><tspan x="1151" dy="15">-logo: String</tspan><tspan x="1151" dy="15">-descripcion: String</tspan><tspan x="1151" dy="15">-tienePublicidad: int</tspan><tspan x="1151" dy="15">-publicidad: Publicidad</tspan></text>
<text x="1151" y="1346"><tspan x="1151">+insertEmpresa(emp: Empresa) {query}</tspan><tspan x="1151" dy="15">+updateEmpresa(emp: Empresa) {query}</tspan><tspan x="1151" dy="15">+deleteEmpresa(emp: Empresa) {query}</tspan><tspan x="1151" dy="15">+selectEmpresa(emp: Empresa) {query}</tspan><tspan x="1151" dy="15">+selectAllEmpresa() {query}</tspan><tspan x="1151" dy="15">+getId(): int</tspan><tspan x="1151" dy="15">+setId(value: int)</tspan><tspan x="1151" dy="15">+getEstado(): int</tspan><tspan x="1151" dy="15">+setEstado(value: int)</tspan><tspan x="1151" dy="15">+getNombre(): String</tspan><tspan x="1151" dy="15">+setNombre(value: String)</tspan><tspan x="1151" dy="15">+getLogo(): String</tspan><tspan x="1151" dy="15">+setLogo(value: String)</tspan><tspan x="1151" dy="15">+getDescripcion(): String</tspan><tspan x="1151" dy="15">+setDescripcion(value: String)</tspan><tspan x="1151" dy="15">+getTienePublicidad(): int</tspan><tspan x="1151" dy="15">+setTienePublicidad(value: int)</tspan><tspan x="1151" dy="15">+getPublicidad(): Publicidad</tspan><tspan x="1151" dy="15">+setPublicidad(value: Publicidad)</tspan></text></g>

<g id="Publicidad"><rect class="sh" x="1529" y="1209" width="258" height="415"/><rect class="g" x="1522" y="1202" width="258" height="415"/><line class="ln" x1="1522" y1="1242" x2="1780" y2="1242"/><line class="ln" x1="1522" y1="1340" x2="1780" y2="1340"/>
<text class="t" x="1651" y="1219">Publicidad</text><text class="f" x="1651" y="1234">(from Modelo)</text>
<text x="1527" y="1257"><tspan x="1527">-ID: int {id, unique}</tspan><tspan x="1527" dy="15">-fecha_inicio: date</tspan><tspan x="1527" dy="15">-fecha_fin: date</tspan><tspan x="1527" dy="15">-detalle: varchar (100)</tspan><tspan x="1527" dy="15">-estado: int</tspan><tspan x="1527" dy="15">-listaImagenes: Array</tspan></text>
<text x="1527" y="1355"><tspan x="1527">+insertPublicidad(pub: Publicidad) {query}</tspan><tspan x="1527" dy="15">+updatePublicidad(pub: Publicidad) {query}</tspan><tspan x="1527" dy="15">+deletePublicidad(pub: Publicidad) {query}</tspan><tspan x="1527" dy="15">+selectPublicidad(pub: Publicidad) {query}</tspan><tspan x="1527" dy="15">+selectAllPublicidad() {query}</tspan><tspan x="1527" dy="15">+selectImagenes(pub: Publicidad) {query}</tspan><tspan x="1527" dy="15">+getID(): int</tspan><tspan x="1527" dy="15">+setID(value: int)</tspan><tspan x="1527" dy="15">+getFecha_inicio(): date</tspan><tspan x="1527" dy="15">+setFecha_inicio(value: date)</tspan><tspan x="1527" dy="15">+getFecha_fin(): date</tspan><tspan x="1527" dy="15">+setFecha_fin(value: date)</tspan><tspan x="1527" dy="15">+getDetalle(): varchar (100)</tspan><tspan x="1527" dy="15">+setDetalle(value: varchar (100))</tspan><tspan x="1527" dy="15">+getEstado(): int</tspan><tspan x="1527" dy="15">+setEstado(value: int)</tspan><tspan x="1527" dy="15">+getListaImagenes(): Array</tspan><tspan x="1527" dy="15">+setListaImagenes(value: Array)</tspan></text></g>

<g id="Cliente"><rect class="sh" x="2097.5" y="1297" width="162.5" height="85"/><rect class="w" x="2090.5" y="1290" width="162.5" height="85"/><line class="ln" x1="2090.5" y1="1330" x2="2253" y2="1330"/><line class="ln" x1="2090.5" y1="1353" x2="2253" y2="1353"/>
<text class="t" x="2171.75" y="1307">Cliente</text><text class="f" x="2171.75" y="1322">(from Modelo)</text>
<text x="2095.5" y="1345">-usuario_id: int {id, unique}</text><text x="2095.5" y="1368">+Cliente()</text></g>

<g id="Administrador"><rect class="sh" x="2368" y="1297" width="164" height="85"/><rect class="w" x="2361" y="1290" width="164" height="85"/><line class="ln" x1="2361" y1="1330" x2="2525" y2="1330"/><line class="ln" x1="2361" y1="1353" x2="2525" y2="1353"/>
<text class="t" x="2443" y="1307">Administrador</text><text class="f" x="2443" y="1322">(from Modelo)</text>
<text x="2366" y="1345">-usuario_id: int {id, unique}</text><text x="2366" y="1368">+Administrador()</text></g>

<g id="Usuario"><rect class="sh" x="2225.5" y="1465" width="186" height="325"/><rect class="w" x="2218.5" y="1458" width="186" height="325"/><line class="ln" x1="2218.5" y1="1498" x2="2404.5" y2="1498"/><line class="ln" x1="2218.5" y1="1671" x2="2404.5" y2="1671"/>
<text class="t" x="2311.5" y="1475">Usuario</text><text class="f" x="2311.5" y="1490">(from Modelo)</text>
<text x="2223.5" y="1513"><tspan x="2223.5">-Nombres: v</tspan><tspan x="2223.5" dy="15">-ID: int {id}</tspan><tspan x="2223.5" dy="15">-Apellidos</tspan><tspan x="2223.5" dy="15">-Fecha_nacimiento: date</tspan><tspan x="2223.5" dy="15">-DNI: int</tspan><tspan x="2223.5" dy="15">-Password: varchar(30)</tspan><tspan x="2223.5" dy="15">-Nombre_perfil: varchar(30)</tspan><tspan x="2223.5" dy="15">-Activo: boolean</tspan><tspan x="2223.5" dy="15">-E-Mail: varchar(50)</tspan><tspan x="2223.5" dy="15">-Celular: int</tspan><tspan x="2223.5" dy="15">-Puntaje: int</tspan></text>
<text x="2223.5" y="1686"><tspan x="2223.5">+crear_perfil()</tspan><tspan x="2223.5" dy="15">+modificar_perfil()</tspan><tspan x="2223.5" dy="15">+eliminar_perfil()</tspan><tspan x="2223.5" dy="15">+consultar_manual_usuario()</tspan><tspan x="2223.5" dy="15">+consultar_perfil_empresa()</tspan><tspan x="2223.5" dy="15">+consultar_catalogo()</tspan><tspan x="2223.5" dy="15">+verificar_identidad()</tspan></text></g>

<g id="Accion"><rect class="sh" x="2441" y="1441" width="193" height="235"/><rect class="w" x="2434" y="1434" width="193" height="235"/><line class="ln" x1="2434" y1="1473.5" x2="2627" y2="1473.5"/><line class="ln" x1="2434" y1="1617" x2="2627" y2="1617"/>
<text class="t" x="2530.5" y="1451">Accion</text><text class="f" x="2530.5" y="1466">(from Modelo)</text>
<text x="2439" y="1488.5"><tspan x="2439">+ID: int {id, unique}</tspan><tspan x="2439" dy="15">+fecha_inicio: date</tspan><tspan x="2439" dy="15">+fecha_fin: date</tspan><tspan x="2439" dy="15">+detalle: varchar (100)</tspan><tspan x="2439" dy="15">+activa: boolean</tspan><tspan x="2439" dy="15">+nombre: varchar(30)</tspan><tspan x="2439" dy="15">+precio: float</tspan><tspan x="2439" dy="15">+porcentaje_reserva: int</tspan><tspan x="2439" dy="15">+fecha_hora_reserva: date time</tspan></text>
<text x="2439" y="1632"><tspan x="2439">+crear_combo()()</tspan><tspan x="2439" dy="15">+modificar_combo()()</tspan><tspan x="2439" dy="15">+eliminar_combo()()</tspan></text></g>

<g id="TipoUsuario"><rect class="sh" x="1889" y="1561" width="112" height="88"/><rect class="w" x="1882" y="1554" width="112" height="88"/><line class="ln" x1="1882" y1="1594" x2="1994" y2="1594"/><line class="ln" x1="1882" y1="1604" x2="1994" y2="1604"/>
<text class="t" x="1938" y="1571">TipoUsuario</text><text class="f" x="1938" y="1586">(from Modelo)</text></g>

<g id="TipoDNI"><rect class="sh" x="1953" y="1713" width="112" height="72"/><rect class="w" x="1946" y="1706" width="112" height="72"/><line class="ln" x1="1946" y1="1746" x2="2058" y2="1746"/><line class="ln" x1="1946" y1="1756" x2="2058" y2="1756"/>
<text class="t" x="2002" y="1723">TipoDNI</text><text class="f" x="2002" y="1738">(from Modelo)</text></g>

<g id="Etapa"><rect class="sh" x="1665" y="1816" width="128" height="89"/><rect class="w" x="1658" y="1809" width="128" height="89"/><line class="ln" x1="1658" y1="1850" x2="1786" y2="1850"/><line class="ln" x1="1658" y1="1860" x2="1786" y2="1860"/>
<text class="t" x="1722" y="1826">Etapa</text><text class="f" x="1722" y="1841">(from Modelo)</text></g>

<g id="TipoAccion"><rect class="sh" x="2201" y="1880" width="137" height="81"/><rect class="w" x="2194" y="1873" width="137" height="81"/><line class="ln" x1="2194" y1="1914" x2="2331" y2="1914"/><line class="ln" x1="2194" y1="1924" x2="2331" y2="1924"/>
<text class="t" x="2262.5" y="1890">TipoAccion</text><text class="f" x="2262.5" y="1905">(from Modelo)</text></g>

<g id="Subcategoria"><rect class="sh" x="241" y="1633" width="317" height="355"/><rect class="g" x="234" y="1626" width="317" height="355"/><line class="ln" x1="234" y1="1666" x2="551" y2="1666"/><line class="ln" x1="234" y1="1749" x2="551" y2="1749"/>
<text class="t" x="392.5" y="1643">Subcategoria</text><text class="f" x="392.5" y="1658">(from Modelo)</text>
<text x="239" y="1681"><tspan x="239">-nombre: varchar(30)</tspan><tspan x="239" dy="15">-ID: int {id, unique}</tspan><tspan x="239" dy="15">-activa: int</tspan><tspan x="239" dy="15">-orden: int</tspan><tspan x="239" dy="15">-categoria: Categoria</tspan></text>
<text x="239" y="1764"><tspan x="239">+getNombre(): varchar(30)</tspan><tspan x="239" dy="15">+setNombre(value: varchar(30))</tspan><tspan x="239" dy="15">+getID(): int</tspan><tspan x="239" dy="15">+setID(value: int)</tspan><tspan x="239" dy="15">+getActiva(): int</tspan><tspan x="239" dy="15">+setActiva(value: int)</tspan><tspan x="239" dy="15">+getOrden(): int</tspan><tspan x="239" dy="15">+setOrden(value: int)</tspan><tspan x="239" dy="15">+getCategoria(): Categoria</tspan><tspan x="239" dy="15">+setCategoria(value: Categoria)</tspan><tspan x="239" dy="15">+insertSubcategoria(subcat: Subcategoria) {query}</tspan><tspan x="239" dy="15">+updateSubcategoria(subcat: Subcategoria) {query}</tspan><tspan x="239" dy="15">+deleteSubcategoria(subcat: Subcategoria) {query}</tspan><tspan x="239" dy="15">+selectSubcategoria(subcat: Subcategoria) {query}</tspan><tspan x="239" dy="15">+selectAllSubcategoria(subcat: Subcategoria) {query}</tspan></text></g>

<g id="Categoria"><rect class="sh" x="289" y="2025" width="255" height="310"/><rect class="g" x="282" y="2018" width="255" height="310"/><line class="ln" x1="282" y1="2058" x2="537" y2="2058"/><line class="ln" x1="282" y1="2126" x2="537" y2="2126"/>
<text class="t" x="409.5" y="2035">Categoria</text><text class="f" x="409.5" y="2050">(from Modelo)</text>
<text x="287" y="2073"><tspan x="287">-nombre: varchar(30)</tspan><tspan x="287" dy="15">-ID: int {id, unique}</tspan><tspan x="287" dy="15">-activa: int</tspan><tspan x="287" dy="15">-orden: int</tspan></text>
<text x="287" y="2141"><tspan x="287">+getNombre(): varchar(30)</tspan><tspan x="287" dy="15">+setNombre(value: varchar(30))</tspan><tspan x="287" dy="15">+getID(): int</tspan><tspan x="287" dy="15">+setID(value: int)</tspan><tspan x="287" dy="15">+getActiva(): int</tspan><tspan x="287" dy="15">+setActiva(value: int)</tspan><tspan x="287" dy="15">+getOrden(): int</tspan><tspan x="287" dy="15">+setOrden(value: int)</tspan><tspan x="287" dy="15">+insertCategoria(cat: Categoria) {query}</tspan><tspan x="287" dy="15">+updateCategoria(cat: Categoria) {query}</tspan><tspan x="287" dy="15">+deleteCategoria(cat: Categoria) {query}</tspan><tspan x="287" dy="15">+selectCategoria(cat: Categoria) {query}</tspan><tspan x="287" dy="15">+selectAllCategoria(cat: Categoria) {query}</tspan></text></g>
</svg>
